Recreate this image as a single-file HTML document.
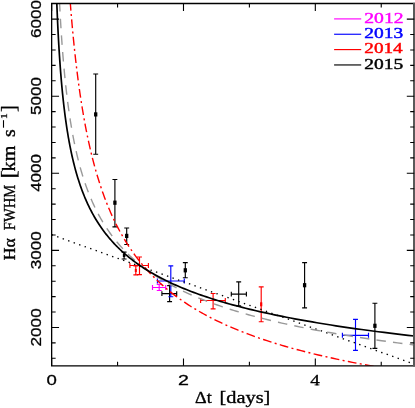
<!DOCTYPE html><html><head><meta charset="utf-8"><style>html,body{margin:0;padding:0;background:#fff}svg{display:block;will-change:transform}</style></head><body><svg width="415" height="408" viewBox="0 0 415 408">
<rect width="100%" height="100%" fill="#fff"/>
<defs><clipPath id="c"><rect x="51.65" y="3.50" width="362.55" height="362.30"/></clipPath></defs>
<g stroke="#000" stroke-width="1.15" fill="#000"><path d="M95.70 74.00 V154.20 M93.25 74.00 H98.15 M93.25 154.20 H98.15"/><rect x="94.05" y="112.30" width="3.30" height="4.20" stroke="none"/></g>
<g stroke="#000" stroke-width="1.15" fill="#000"><path d="M114.90 179.50 V226.80 M112.45 179.50 H117.35 M112.45 226.80 H117.35"/><rect x="113.25" y="200.60" width="3.30" height="4.20" stroke="none"/></g>
<g stroke="#000" stroke-width="1.15" fill="#000"><path d="M126.70 228.00 V244.50 M124.25 228.00 H129.15 M124.25 244.50 H129.15"/><rect x="125.05" y="233.80" width="3.30" height="4.20" stroke="none"/></g>
<g stroke="#000" stroke-width="1.15" fill="#000"><path d="M124.10 252.10 V259.00 M121.65 252.10 H126.55 M121.65 259.00 H126.55"/><rect x="122.85" y="254.00" width="2.50" height="3.00" stroke="none"/></g>
<g stroke="#000" stroke-width="1.15" fill="#000"><path d="M185.30 262.60 V277.70 M182.85 262.60 H187.75 M182.85 277.70 H187.75"/><rect x="183.65" y="268.20" width="3.30" height="4.20" stroke="none"/></g>
<g stroke="#000" stroke-width="1.15" fill="#000"><path d="M304.60 262.60 V307.80 M302.15 262.60 H307.05 M302.15 307.80 H307.05"/><rect x="302.95" y="283.10" width="3.30" height="4.20" stroke="none"/></g>
<g stroke="#000" stroke-width="1.15" fill="#000"><path d="M374.90 303.20 V348.40 M372.45 303.20 H377.35 M372.45 348.40 H377.35"/><rect x="373.25" y="323.70" width="3.30" height="4.20" stroke="none"/></g>
<g stroke="#000" stroke-width="1.15" fill="#000"><path d="M169.60 285.60 V301.60 M167.15 285.60 H172.05 M167.15 301.60 H172.05M161.90 293.60 H176.70 M161.90 291.15 V296.05 M176.70 291.15 V296.05"/></g>
<g stroke="#000" stroke-width="1.15" fill="#000"><path d="M238.70 281.90 V305.80 M236.25 281.90 H241.15 M236.25 305.80 H241.15M231.30 294.10 H246.40 M231.30 291.65 V296.55 M246.40 291.65 V296.55"/></g>
<g stroke="#00f" stroke-width="1.15" fill="#00f"><path d="M170.80 265.80 V296.70 M168.35 265.80 H173.25 M168.35 296.70 H173.25M157.40 281.00 H184.30 M157.40 278.55 V283.45 M184.30 278.55 V283.45"/></g>
<g stroke="#00f" stroke-width="1.15" fill="#00f"><path d="M355.50 319.30 V350.40 M353.05 319.30 H357.95 M353.05 350.40 H357.95M342.40 335.30 H368.50 M342.40 332.85 V337.75 M368.50 332.85 V337.75"/></g>
<g stroke="#f0f" stroke-width="1.15" fill="#f0f"><path d="M159.20 284.40 V290.50 M156.75 284.40 H161.65 M156.75 290.50 H161.65M152.50 287.50 H165.70 M152.50 285.05 V289.95 M165.70 285.05 V289.95"/></g>
<g stroke="#f00" stroke-width="1.15" fill="#f00"><path d="M139.50 257.00 V274.60 M137.05 257.00 H141.95 M137.05 274.60 H141.95M129.90 265.50 H148.40 M129.90 263.05 V267.95 M148.40 263.05 V267.95"/></g>
<g stroke="#f00" stroke-width="1.15" fill="#f00"><path d="M135.80 266.00 V274.90 M133.35 266.00 H138.25 M133.35 274.90 H138.25"/><rect x="134.80" y="269.00" width="2.00" height="3.00" stroke="none"/></g>
<g stroke="#f00" stroke-width="1.15" fill="#f00"><path d="M213.10 293.50 V308.90 M210.65 293.50 H215.55 M210.65 308.90 H215.55M200.60 300.50 H225.30 M200.60 298.05 V302.95 M225.30 298.05 V302.95"/></g>
<g stroke="#f00" stroke-width="1.15" fill="#f00"><path d="M261.20 286.80 V321.70 M258.75 286.80 H263.65 M258.75 321.70 H263.65"/><rect x="260.10" y="302.30" width="2.20" height="4.00" stroke="none"/></g>
<g clip-path="url(#c)" fill="none">
<path d="M51.65 234.76 L414.20 364.07" stroke="#000" stroke-width="1.35" stroke-dasharray="1.4 4.43"/>
<path d="M54.95 -156.12 L55.00 -152.85 L55.05 -149.60 L55.10 -146.36 L55.16 -143.14 L55.21 -139.94 L55.27 -136.76 L55.33 -133.59 L55.39 -130.43 L55.45 -127.30 L55.50 -124.18 L55.57 -121.07 L55.63 -117.99 L55.69 -114.91 L55.75 -111.86 L55.82 -108.81 L55.88 -105.79 L55.95 -102.78 L56.02 -99.78 L56.09 -96.81 L56.16 -93.84 L56.23 -90.89 L56.30 -87.96 L56.38 -85.04 L56.45 -82.14 L56.53 -79.25 L56.60 -76.37 L56.68 -73.51 L56.76 -70.67 L56.84 -67.84 L56.92 -65.02 L57.01 -62.22 L57.09 -59.44 L57.18 -56.66 L57.26 -53.91 L57.35 -51.16 L57.44 -48.43 L57.54 -45.71 L57.63 -43.01 L57.72 -40.32 L57.82 -37.65 L57.92 -34.99 L58.01 -32.34 L58.12 -29.71 L58.22 -27.09 L58.32 -24.48 L58.43 -21.89 L58.53 -19.31 L58.64 -16.74 L58.75 -14.19 L58.86 -11.65 L58.98 -9.12 L59.09 -6.61 L59.21 -4.10 L59.33 -1.61 L59.45 0.86 L59.58 3.32 L59.70 5.78 L59.83 8.21 L59.96 10.64 L60.09 13.05 L60.22 15.45 L60.36 17.84 L60.49 20.22 L60.63 22.58 L60.78 24.93 L60.92 27.27 L61.07 29.60 L61.22 31.92 L61.37 34.22 L61.52 36.52 L61.68 38.80 L61.83 41.06 L61.99 43.32 L62.16 45.57 L62.32 47.80 L62.49 50.02 L62.66 52.24 L62.84 54.44 L63.01 56.62 L63.19 58.80 L63.38 60.97 L63.56 63.12 L63.75 65.27 L63.94 67.40 L64.13 69.52 L64.33 71.64 L64.53 73.74 L64.74 75.83 L64.94 77.90 L65.15 79.97 L65.37 82.03 L65.58 84.08 L65.80 86.12 L66.03 88.14 L66.25 90.16 L66.48 92.16 L66.72 94.16 L66.95 96.14 L67.20 98.12 L67.44 100.08 L67.69 102.04 L67.94 103.98 L68.20 105.92 L68.46 107.84 L68.73 109.76 L69.00 111.66 L69.27 113.56 L69.55 115.44 L69.83 117.32 L70.12 119.19 L70.41 121.04 L70.71 122.89 L71.01 124.73 L71.32 126.56 L71.63 128.38 L71.94 130.19 L72.26 131.99 L72.59 133.78 L72.92 135.56 L73.25 137.33 L73.60 139.10 L73.94 140.85 L74.29 142.60 L74.65 144.33 L75.01 146.06 L75.38 147.78 L75.76 149.49 L76.14 151.19 L76.53 152.89 L76.92 154.57 L77.32 156.24 L77.72 157.91 L78.13 159.57 L78.55 161.22 L78.98 162.86 L79.41 164.49 L79.85 166.12 L80.29 167.74 L80.75 169.34 L81.20 170.94 L81.67 172.53 L82.15 174.12 L82.63 175.69 L83.12 177.26 L83.61 178.82 L84.12 180.37 L84.63 181.91 L85.15 183.45 L85.68 184.98 L86.22 186.50 L86.76 188.01 L87.32 189.51 L87.88 191.01 L88.45 192.50 L89.03 193.98 L89.63 195.45 L90.22 196.92 L90.83 198.38 L91.45 199.83 L92.08 201.27 L92.72 202.71 L93.37 204.14 L94.03 205.56 L94.70 206.97 L95.38 208.38 L96.07 209.78 L96.77 211.17 L97.48 212.56 L98.20 213.93 L98.94 215.30 L99.69 216.67 L100.44 218.03 L101.22 219.38 L102.00 220.72 L102.79 222.06 L103.60 223.39 L104.42 224.71 L105.25 226.02 L106.10 227.33 L106.96 228.64 L107.83 229.93 L108.72 231.22 L109.62 232.50 L110.54 233.78 L111.47 235.05 L112.41 236.31 L113.37 237.57 L114.35 238.82 L115.34 240.06 L116.34 241.30 L117.36 242.53 L118.40 243.75 L119.46 244.97 L120.53 246.18 L121.61 247.39 L122.72 248.59 L123.84 249.78 L124.98 250.97 L126.14 252.15 L127.32 253.33 L128.51 254.50 L129.73 255.66 L130.96 256.82 L132.21 257.97 L133.48 259.11 L134.77 260.25 L136.09 261.39 L137.42 262.52 L138.78 263.64 L140.15 264.75 L141.55 265.86 L142.97 266.97 L144.41 268.07 L145.88 269.16 L147.36 270.25 L148.88 271.33 L150.41 272.41 L151.97 273.48 L153.55 274.55 L155.16 275.61 L156.80 276.66 L158.46 277.71 L160.15 278.76 L161.86 279.80 L163.60 280.83 L165.37 281.86 L167.16 282.88 L168.99 283.90 L170.84 284.91 L172.72 285.92 L174.63 286.92 L176.58 287.92 L178.55 288.91 L180.55 289.90 L182.59 290.88 L184.66 291.86 L186.76 292.83 L188.89 293.79 L191.06 294.76 L193.26 295.71 L195.49 296.66 L197.77 297.61 L200.07 298.55 L202.42 299.49 L204.80 300.42 L207.22 301.35 L209.67 302.27 L212.17 303.19 L214.70 304.11 L217.28 305.02 L219.89 305.92 L222.55 306.82 L225.25 307.71 L227.99 308.60 L230.78 309.49 L233.60 310.37 L236.48 311.25 L239.40 312.12 L242.36 312.99 L245.37 313.85 L248.43 314.71 L251.54 315.57 L254.70 316.42 L257.90 317.26 L261.16 318.10 L264.47 318.94 L267.83 319.77 L271.24 320.60 L274.71 321.43 L278.23 322.25 L281.81 323.06 L285.45 323.87 L289.14 324.68 L292.89 325.49 L296.70 326.29 L300.57 327.08 L304.50 327.87 L308.49 328.66 L312.55 329.44 L316.67 330.22 L320.85 331.00 L325.10 331.77 L329.42 332.53 L333.81 333.30 L338.26 334.06 L342.79 334.81 L347.39 335.56 L352.06 336.31 L356.80 337.06 L361.62 337.80 L366.52 338.53 L371.49 339.26 L376.54 339.99 L381.67 340.72 L386.88 341.44 L392.18 342.16 L397.55 342.87 L403.02 343.58 L408.56 344.29 L414.20 344.99" stroke="#999" stroke-width="1.4" stroke-dasharray="9.5 7.185" stroke-dashoffset="8.56"/>
<path d="M58.24 -323.00 L58.33 -317.64 L58.42 -312.32 L58.51 -307.04 L58.60 -301.79 L58.70 -296.58 L58.79 -291.40 L58.89 -286.25 L58.99 -281.14 L59.08 -276.07 L59.18 -271.02 L59.29 -266.01 L59.39 -261.04 L59.49 -256.10 L59.60 -251.19 L59.70 -246.31 L59.81 -241.47 L59.92 -236.65 L60.03 -231.87 L60.15 -227.13 L60.26 -222.41 L60.38 -217.72 L60.49 -213.07 L60.61 -208.45 L60.73 -203.86 L60.86 -199.29 L60.98 -194.76 L61.10 -190.26 L61.23 -185.79 L61.36 -181.35 L61.49 -176.94 L61.62 -172.55 L61.76 -168.20 L61.89 -163.88 L62.03 -159.58 L62.17 -155.31 L62.31 -151.08 L62.46 -146.87 L62.60 -142.68 L62.75 -138.53 L62.90 -134.40 L63.05 -130.30 L63.20 -126.23 L63.36 -122.19 L63.51 -118.17 L63.67 -114.18 L63.84 -110.21 L64.00 -106.27 L64.17 -102.36 L64.33 -98.47 L64.50 -94.61 L64.68 -90.78 L64.85 -86.97 L65.03 -83.19 L65.21 -79.43 L65.39 -75.70 L65.58 -71.99 L65.76 -68.30 L65.95 -64.64 L66.15 -61.01 L66.34 -57.40 L66.54 -53.81 L66.74 -50.25 L66.94 -46.71 L67.15 -43.19 L67.36 -39.70 L67.57 -36.23 L67.78 -32.79 L68.00 -29.36 L68.22 -25.96 L68.44 -22.59 L68.67 -19.23 L68.90 -15.90 L69.13 -12.59 L69.36 -9.30 L69.60 -6.03 L69.84 -2.79 L70.09 0.44 L70.34 3.64 L70.59 6.82 L70.84 9.98 L71.10 13.12 L71.36 16.23 L71.63 19.33 L71.89 22.41 L72.17 25.46 L72.44 28.50 L72.72 31.51 L73.01 34.51 L73.29 37.48 L73.58 40.44 L73.88 43.37 L74.18 46.29 L74.48 49.18 L74.79 52.06 L75.10 54.92 L75.41 57.76 L75.73 60.58 L76.06 63.38 L76.39 66.16 L76.72 68.93 L77.06 71.67 L77.40 74.40 L77.74 77.11 L78.09 79.80 L78.45 82.48 L78.81 85.13 L79.18 87.77 L79.55 90.39 L79.92 92.99 L80.30 95.58 L80.69 98.15 L81.08 100.70 L81.47 103.23 L81.87 105.75 L82.28 108.25 L82.69 110.73 L83.11 113.20 L83.53 115.65 L83.96 118.09 L84.40 120.51 L84.84 122.91 L85.28 125.30 L85.73 127.67 L86.19 130.02 L86.66 132.36 L87.13 134.68 L87.60 136.99 L88.09 139.29 L88.58 141.56 L89.08 143.83 L89.58 146.07 L90.09 148.30 L90.61 150.52 L91.13 152.72 L91.66 154.91 L92.20 157.09 L92.74 159.25 L93.30 161.39 L93.86 163.52 L94.42 165.64 L95.00 167.74 L95.58 169.83 L96.17 171.90 L96.77 173.96 L97.38 176.01 L97.99 178.04 L98.62 180.06 L99.25 182.07 L99.89 184.06 L100.54 186.04 L101.19 188.01 L101.86 189.96 L102.54 191.90 L103.22 193.83 L103.91 195.74 L104.62 197.64 L105.33 199.53 L106.05 201.41 L106.78 203.27 L107.52 205.12 L108.27 206.96 L109.04 208.79 L109.81 210.60 L110.59 212.41 L111.38 214.20 L112.18 215.98 L113.00 217.74 L113.82 219.50 L114.66 221.24 L115.51 222.97 L116.37 224.70 L117.24 226.40 L118.12 228.10 L119.01 229.79 L119.92 231.46 L120.84 233.13 L121.77 234.78 L122.71 236.42 L123.66 238.05 L124.63 239.67 L125.61 241.28 L126.61 242.88 L127.62 244.47 L128.64 246.05 L129.67 247.61 L130.72 249.17 L131.79 250.72 L132.86 252.25 L133.96 253.78 L135.06 255.29 L136.18 256.80 L137.32 258.29 L138.47 259.78 L139.64 261.25 L140.82 262.72 L142.02 264.17 L143.24 265.62 L144.47 267.06 L145.72 268.48 L146.98 269.90 L148.27 271.31 L149.57 272.71 L150.88 274.10 L152.22 275.48 L153.57 276.85 L154.94 278.21 L156.33 279.56 L157.74 280.91 L159.16 282.24 L160.61 283.57 L162.07 284.88 L163.56 286.19 L165.06 287.49 L166.59 288.78 L168.13 290.07 L169.70 291.34 L171.29 292.61 L172.90 293.86 L174.53 295.11 L176.18 296.35 L177.85 297.58 L179.55 298.81 L181.27 300.02 L183.01 301.23 L184.78 302.43 L186.57 303.62 L188.38 304.80 L190.22 305.98 L192.09 307.15 L193.98 308.31 L195.89 309.46 L197.83 310.61 L199.79 311.74 L201.79 312.87 L203.81 313.99 L205.85 315.11 L207.93 316.22 L210.03 317.32 L212.16 318.41 L214.32 319.49 L216.50 320.57 L218.72 321.64 L220.97 322.71 L223.24 323.76 L225.55 324.81 L227.89 325.85 L230.26 326.89 L232.66 327.92 L235.10 328.94 L237.56 329.96 L240.06 330.96 L242.60 331.97 L245.16 332.96 L247.77 333.95 L250.40 334.93 L253.08 335.91 L255.78 336.87 L258.53 337.84 L261.31 338.79 L264.13 339.74 L266.99 340.68 L269.88 341.62 L272.82 342.55 L275.79 343.48 L278.81 344.39 L281.86 345.31 L284.96 346.21 L288.09 347.11 L291.27 348.01 L294.50 348.90 L297.76 349.78 L301.07 350.65 L304.43 351.52 L307.82 352.39 L311.27 353.25 L314.76 354.10 L318.30 354.95 L321.88 355.79 L325.52 356.63 L329.20 357.46 L332.93 358.28 L336.72 359.10 L340.55 359.92 L344.43 360.73 L348.37 361.53 L352.36 362.33 L356.41 363.12 L360.50 363.91 L364.66 364.69 L368.87 365.47 L373.13 366.24 L377.46 367.01 L381.84 367.77 L386.28 368.52 L390.78 369.28 L395.34 370.02 L399.96 370.76 L404.64 371.50 L409.39 372.23 L414.20 372.96" stroke="#f00" stroke-width="1.4" stroke-dasharray="8.8 3.36 2 3.36" stroke-dashoffset="7.72"/>
<path d="M53.63 -144.11 L53.66 -141.07 L53.70 -138.05 L53.73 -135.04 L53.77 -132.05 L53.81 -129.08 L53.84 -126.11 L53.88 -123.17 L53.92 -120.23 L53.96 -117.31 L54.00 -114.41 L54.04 -111.52 L54.09 -108.64 L54.13 -105.78 L54.17 -102.93 L54.22 -100.09 L54.26 -97.27 L54.31 -94.46 L54.35 -91.67 L54.40 -88.89 L54.45 -86.12 L54.50 -83.37 L54.55 -80.63 L54.60 -77.90 L54.65 -75.19 L54.70 -72.48 L54.76 -69.80 L54.81 -67.12 L54.87 -64.46 L54.92 -61.81 L54.98 -59.18 L55.04 -56.55 L55.10 -53.94 L55.16 -51.35 L55.22 -48.76 L55.28 -46.19 L55.35 -43.63 L55.41 -41.08 L55.48 -38.54 L55.54 -36.02 L55.61 -33.51 L55.68 -31.01 L55.75 -28.53 L55.82 -26.05 L55.90 -23.59 L55.97 -21.14 L56.05 -18.70 L56.12 -16.27 L56.20 -13.86 L56.28 -11.46 L56.36 -9.06 L56.45 -6.68 L56.53 -4.32 L56.62 -1.96 L56.70 0.39 L56.79 2.72 L56.88 5.04 L56.97 7.35 L57.07 9.65 L57.16 11.94 L57.26 14.22 L57.36 16.49 L57.46 18.74 L57.56 20.99 L57.66 23.22 L57.77 25.45 L57.87 27.66 L57.98 29.86 L58.09 32.05 L58.21 34.23 L58.32 36.40 L58.44 38.56 L58.56 40.71 L58.68 42.85 L58.80 44.98 L58.93 47.09 L59.05 49.20 L59.18 51.30 L59.32 53.39 L59.45 55.46 L59.59 57.53 L59.73 59.59 L59.87 61.63 L60.01 63.67 L60.16 65.70 L60.31 67.71 L60.46 69.72 L60.61 71.72 L60.77 73.71 L60.93 75.69 L61.09 77.65 L61.26 79.61 L61.43 81.56 L61.60 83.50 L61.77 85.43 L61.95 87.36 L62.13 89.27 L62.31 91.17 L62.50 93.06 L62.69 94.95 L62.88 96.82 L63.08 98.69 L63.28 100.55 L63.49 102.39 L63.69 104.23 L63.90 106.06 L64.12 107.89 L64.34 109.70 L64.56 111.50 L64.79 113.30 L65.02 115.08 L65.25 116.86 L65.49 118.63 L65.73 120.39 L65.98 122.14 L66.23 123.88 L66.48 125.62 L66.74 127.35 L67.01 129.06 L67.28 130.77 L67.55 132.47 L67.83 134.17 L68.11 135.85 L68.40 137.53 L68.70 139.20 L68.99 140.86 L69.30 142.51 L69.61 144.16 L69.92 145.79 L70.24 147.42 L70.57 149.04 L70.90 150.65 L71.24 152.26 L71.58 153.86 L71.93 155.45 L72.28 157.03 L72.65 158.60 L73.01 160.17 L73.39 161.73 L73.77 163.28 L74.16 164.82 L74.55 166.36 L74.95 167.89 L75.36 169.41 L75.78 170.92 L76.20 172.43 L76.63 173.93 L77.07 175.42 L77.51 176.90 L77.96 178.38 L78.43 179.85 L78.90 181.32 L79.37 182.77 L79.86 184.22 L80.35 185.66 L80.86 187.10 L81.37 188.53 L81.89 189.95 L82.42 191.36 L82.96 192.77 L83.51 194.17 L84.06 195.56 L84.63 196.95 L85.21 198.33 L85.80 199.70 L86.40 201.07 L87.01 202.43 L87.62 203.78 L88.26 205.13 L88.90 206.47 L89.55 207.81 L90.21 209.13 L90.89 210.46 L91.58 211.77 L92.28 213.08 L92.99 214.38 L93.71 215.68 L94.45 216.97 L95.20 218.25 L95.96 219.53 L96.74 220.80 L97.53 222.06 L98.33 223.32 L99.15 224.57 L99.98 225.82 L100.83 227.06 L101.69 228.29 L102.57 229.52 L103.46 230.74 L104.37 231.96 L105.29 233.17 L106.23 234.37 L107.19 235.57 L108.16 236.77 L109.15 237.95 L110.16 239.14 L111.19 240.31 L112.23 241.48 L113.29 242.64 L114.37 243.80 L115.47 244.96 L116.59 246.10 L117.73 247.25 L118.88 248.38 L120.06 249.51 L121.26 250.64 L122.48 251.76 L123.72 252.87 L124.98 253.98 L126.27 255.08 L127.58 256.18 L128.91 257.28 L130.26 258.36 L131.64 259.45 L133.04 260.52 L134.47 261.59 L135.92 262.66 L137.39 263.72 L138.90 264.78 L140.43 265.83 L141.98 266.88 L143.56 267.92 L145.17 268.95 L146.81 269.98 L148.48 271.01 L150.18 272.03 L151.90 273.05 L153.66 274.06 L155.45 275.06 L157.27 276.07 L159.12 277.06 L161.00 278.05 L162.92 279.04 L164.87 280.02 L166.85 281.00 L168.87 281.97 L170.92 282.94 L173.01 283.90 L175.14 284.86 L177.30 285.82 L179.51 286.76 L181.75 287.71 L184.03 288.65 L186.35 289.58 L188.71 290.52 L191.11 291.44 L193.55 292.36 L196.04 293.28 L198.57 294.19 L201.14 295.10 L203.76 296.01 L206.43 296.91 L209.14 297.80 L211.90 298.69 L214.71 299.58 L217.56 300.46 L220.47 301.34 L223.43 302.21 L226.44 303.08 L229.50 303.95 L232.62 304.81 L235.79 305.67 L239.02 306.52 L242.30 307.37 L245.64 308.21 L249.04 309.05 L252.50 309.89 L256.02 310.72 L259.60 311.55 L263.24 312.37 L266.95 313.19 L270.72 314.01 L274.56 314.82 L278.47 315.63 L282.44 316.44 L286.49 317.24 L290.60 318.03 L294.79 318.83 L299.05 319.61 L303.38 320.40 L307.79 321.18 L312.28 321.96 L316.85 322.73 L321.50 323.50 L326.23 324.27 L331.04 325.03 L335.93 325.79 L340.91 326.54 L345.98 327.30 L351.14 328.04 L356.39 328.79 L361.73 329.53 L367.16 330.27 L372.69 331.00 L378.32 331.73 L384.04 332.46 L389.86 333.18 L395.79 333.90 L401.82 334.61 L407.96 335.33 L414.20 336.03" stroke="#000" stroke-width="1.7"/>
</g>
<path d="M415.00 3.50 H51.65 V365.80 H415.00" fill="none" stroke="#000" stroke-width="1.3"/>
<rect x="413" y="2.85" width="2" height="363.60" fill="#5a5a5a"/>
<path d="M51.65 365.80 v-7.40 M51.65 3.50 v7.40 M117.57 365.80 v-4.00 M117.57 3.50 v4.00 M183.49 365.80 v-7.40 M183.49 3.50 v7.40 M249.40 365.80 v-4.00 M249.40 3.50 v4.00 M315.32 365.80 v-7.40 M315.32 3.50 v7.40 M381.24 365.80 v-4.00 M381.24 3.50 v4.00 M51.65 358.29 h4.00 M414.20 358.29 h-4.00 M51.65 342.87 h4.00 M414.20 342.87 h-4.00 M51.65 327.46 h7.40 M414.20 327.46 h-7.40 M51.65 312.04 h4.00 M414.20 312.04 h-4.00 M51.65 296.62 h4.00 M414.20 296.62 h-4.00 M51.65 281.21 h4.00 M414.20 281.21 h-4.00 M51.65 265.79 h4.00 M414.20 265.79 h-4.00 M51.65 250.37 h7.40 M414.20 250.37 h-7.40 M51.65 234.96 h4.00 M414.20 234.96 h-4.00 M51.65 219.54 h4.00 M414.20 219.54 h-4.00 M51.65 204.12 h4.00 M414.20 204.12 h-4.00 M51.65 188.70 h4.00 M414.20 188.70 h-4.00 M51.65 173.29 h7.40 M414.20 173.29 h-7.40 M51.65 157.87 h4.00 M414.20 157.87 h-4.00 M51.65 142.45 h4.00 M414.20 142.45 h-4.00 M51.65 127.04 h4.00 M414.20 127.04 h-4.00 M51.65 111.62 h4.00 M414.20 111.62 h-4.00 M51.65 96.20 h7.40 M414.20 96.20 h-7.40 M51.65 80.79 h4.00 M414.20 80.79 h-4.00 M51.65 65.37 h4.00 M414.20 65.37 h-4.00 M51.65 49.95 h4.00 M414.20 49.95 h-4.00 M51.65 34.53 h4.00 M414.20 34.53 h-4.00 M51.65 19.12 h7.40 M414.20 19.12 h-7.40" stroke="#000" stroke-width="1.1" fill="none"/>
<path d="M334.1 18.90 H361.2" stroke="#f0f" stroke-width="1.15"/>
<path d="M334.1 34.25 H361.2" stroke="#00f" stroke-width="1.15"/>
<path d="M334.1 49.60 H361.2" stroke="#f00" stroke-width="1.15"/>
<path d="M334.1 64.95 H361.2" stroke="#000" stroke-width="1.15"/>
<path d="M3.5 127.7 V120.2" stroke="#000" stroke-width="1.1"/>
<path d="M314.6 384.9 H319.4" stroke="#000" stroke-width="0.9"/>
<g opacity="0.999">
<text transform="translate(195.11 403.35) scale(1.0966 1)" font-family="Liberation Serif, serif" font-size="16.50" fill="#000" stroke="#000" stroke-width="0.35" xml:space="preserve">Δt</text>
<text transform="translate(219.56 403.35) scale(1.2335 1)" font-family="Liberation Serif, serif" font-size="16.50" fill="#000" stroke="#000" stroke-width="0.35" xml:space="preserve">[days]</text>
<text transform="translate(46.41 384.80) scale(1.2571 1)" font-family="Liberation Sans, sans-serif" font-size="14.80" fill="#000" stroke="#000" stroke-width="0.30" xml:space="preserve">0</text>
<text transform="translate(178.11 384.80) scale(1.3259 1)" font-family="Liberation Sans, sans-serif" font-size="14.80" fill="#000" stroke="#000" stroke-width="0.30" xml:space="preserve">2</text>
<text transform="translate(310.29 384.90) scale(1.2276 1)" font-family="Liberation Serif, serif" font-size="15.50" fill="#000" stroke="#000" stroke-width="0.35" xml:space="preserve">4</text>
<text transform="translate(40.70 346.43) rotate(-90) scale(1.1573 1)" font-family="Liberation Sans, sans-serif" font-size="14.80" fill="#000" stroke="#000" stroke-width="0.30" xml:space="preserve">2000</text>
<text transform="translate(40.70 269.19) rotate(-90) scale(1.1528 1)" font-family="Liberation Sans, sans-serif" font-size="14.80" fill="#000" stroke="#000" stroke-width="0.30" xml:space="preserve">3000</text>
<text transform="translate(40.70 191.82) rotate(-90) scale(1.1438 1)" font-family="Liberation Sans, sans-serif" font-size="14.80" fill="#000" stroke="#000" stroke-width="0.30" xml:space="preserve">4000</text>
<text transform="translate(40.70 115.02) rotate(-90) scale(1.1528 1)" font-family="Liberation Sans, sans-serif" font-size="14.80" fill="#000" stroke="#000" stroke-width="0.30" xml:space="preserve">5000</text>
<text transform="translate(40.70 38.09) rotate(-90) scale(1.1573 1)" font-family="Liberation Sans, sans-serif" font-size="14.80" fill="#000" stroke="#000" stroke-width="0.30" xml:space="preserve">6000</text>
<text transform="translate(15.15 260.32) rotate(-90) scale(1.0420 1)" font-family="Liberation Serif, serif" font-size="17.00" fill="#000" stroke="#000" stroke-width="0.35" xml:space="preserve">Hα</text>
<text transform="translate(15.15 230.13) rotate(-90) scale(0.8578 1)" font-family="Liberation Serif, serif" font-size="17.00" fill="#000" stroke="#000" stroke-width="0.35" xml:space="preserve">FWHM</text>
<text transform="translate(15.40 178.62) rotate(-90) scale(1.2114 1)" font-family="Liberation Serif, serif" font-size="20.00" fill="#000" stroke="#000" stroke-width="0.30" xml:space="preserve">[</text>
<text transform="translate(15.15 171.42) rotate(-90) scale(1.1218 1)" font-family="Liberation Serif, serif" font-size="18.00" fill="#000" stroke="#000" stroke-width="0.35" xml:space="preserve">km</text>
<text transform="translate(15.15 136.88) rotate(-90) scale(1.1111 1)" font-family="Liberation Serif, serif" font-size="18.00" fill="#000" stroke="#000" stroke-width="0.35" xml:space="preserve">s</text>
<text transform="translate(7.00 119.07) rotate(-90) scale(1.2923 1)" font-family="Liberation Serif, serif" font-size="9.00" fill="#000" stroke="#000" stroke-width="0.30" xml:space="preserve">1</text>
<text transform="translate(15.40 112.05) rotate(-90) scale(1.0057 1)" font-family="Liberation Serif, serif" font-size="20.00" fill="#000" stroke="#000" stroke-width="0.30" xml:space="preserve">]</text>
<text transform="translate(364.28 22.70) scale(1.3088 1)" font-family="Liberation Serif, serif" font-size="15.00" fill="#f0f" stroke="#f0f" stroke-width="0.45" xml:space="preserve">2012</text>
<text transform="translate(364.29 38.05) scale(1.2974 1)" font-family="Liberation Serif, serif" font-size="15.00" fill="#00f" stroke="#00f" stroke-width="0.45" xml:space="preserve">2013</text>
<text transform="translate(364.30 53.40) scale(1.2807 1)" font-family="Liberation Serif, serif" font-size="15.00" fill="#f00" stroke="#f00" stroke-width="0.45" xml:space="preserve">2014</text>
<text transform="translate(364.29 68.75) scale(1.2974 1)" font-family="Liberation Serif, serif" font-size="15.00" fill="#000" stroke="#000" stroke-width="0.45" xml:space="preserve">2015</text>
</g>
</svg></body></html>
